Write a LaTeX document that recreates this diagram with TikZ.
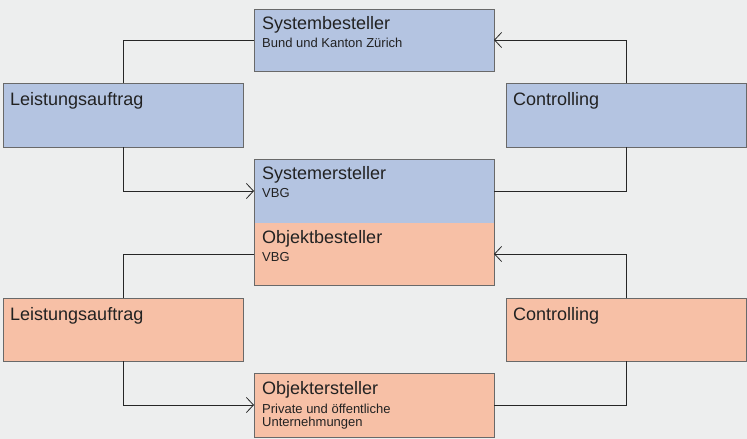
\documentclass[tikz,border=0pt]{standalone}
\usepackage{fontspec}
\setmainfont{Liberation Sans}
\usetikzlibrary{arrows.meta}
\definecolor{bg}{RGB}{237,238,238}
\definecolor{boxblue}{RGB}{180,196,225}
\definecolor{boxsalmon}{RGB}{247,192,166}
\definecolor{boxline}{RGB}{105,105,105}
\definecolor{txt}{RGB}{34,34,34}
\tikzset{
  box/.style={draw=boxline, line width=0.9pt, minimum width=240pt, inner sep=0pt, outer sep=0pt},
  halfbox/.style={minimum width=240pt, inner sep=0pt, outer sep=0pt},
  ttl/.style={font=\fontsize{18}{20}\selectfont, text=txt, inner sep=0pt, anchor=base west},
  sub/.style={font=\fontsize{13}{14}\selectfont, text=txt, inner sep=0pt, anchor=base west},
  conn/.style={draw=black!85, line width=0.9pt},
  arr/.style={conn, -{Straight Barb[length=7pt,width=15pt,line width=0.8pt]}}
}
\begin{document}
\begin{tikzpicture}[x=1pt,y=-1pt]
\fill[bg] (0,0) rectangle (747,439);
\useasboundingbox (0,0) rectangle (747,439);
% boxes
\node[box, fill=boxblue, minimum height=62pt] (sb) at (374,40) {};
\node[box, fill=boxblue, minimum height=64pt] (la1) at (123,115) {};
\node[box, fill=boxblue, minimum height=64pt] (co1) at (626,115) {};
\node[halfbox, fill=boxblue, minimum height=64pt] (se) at (374,191) {};
\node[halfbox, fill=boxsalmon, minimum height=62pt] (ob) at (374,254) {};
\draw[boxline, line width=0.9pt] (se.north west) rectangle (ob.south east);
\node[box, fill=boxsalmon, minimum height=63pt] (la2) at (123,329.5) {};
\node[box, fill=boxsalmon, minimum height=63pt] (co2) at (626,329.5) {};
\node[box, fill=boxsalmon, minimum height=64pt] (oe) at (374,405) {};
% texts
\node[ttl] (sbt) at ([shift={(8,20)}]sb.north west) {Systembesteller};
\node[sub] (sbs) at ([shift={(8,38)}]sb.north west) {Bund und Kanton Zürich};
\node[ttl] (la1t) at ([shift={(7,22)}]la1.north west) {Leistungsauftrag};
\node[ttl] (co1t) at ([shift={(7,22)}]co1.north west) {Controlling};
\node[ttl] (set) at ([shift={(8,20)}]se.north west) {Systemersteller};
\node[sub] (ses) at ([shift={(8,38)}]se.north west) {VBG};
\node[ttl] (obt) at ([shift={(8,20)}]ob.north west) {Objektbesteller};
\node[sub] (obs) at ([shift={(8,38)}]ob.north west) {VBG};
\node[ttl] (la2t) at ([shift={(7,22)}]la2.north west) {Leistungsauftrag};
\node[ttl] (co2t) at ([shift={(7,22)}]co2.north west) {Controlling};
\node[ttl] (oet) at ([shift={(8,21)}]oe.north west) {Objektersteller};
\node[sub] (oes1) at ([shift={(8,40)}]oe.north west) {Private und öffentliche};
\node[sub] (oes2) at ([shift={(8,53)}]oe.north west) {Unternehmungen};
% connectors
\draw[conn] (sb.west) -| (la1.north);
\draw[arr] (la1.south) |- (se.west);
\draw[arr] (co1.north) |- (sb.east);
\draw[conn] (co1.south) |- (se.east);
\draw[conn] (ob.west) -| (la2.north);
\draw[arr] (la2.south) |- (oe.west);
\draw[arr] (co2.north) |- (ob.east);
\draw[conn] (co2.south) |- (oe.east);
\end{tikzpicture}
\end{document}
